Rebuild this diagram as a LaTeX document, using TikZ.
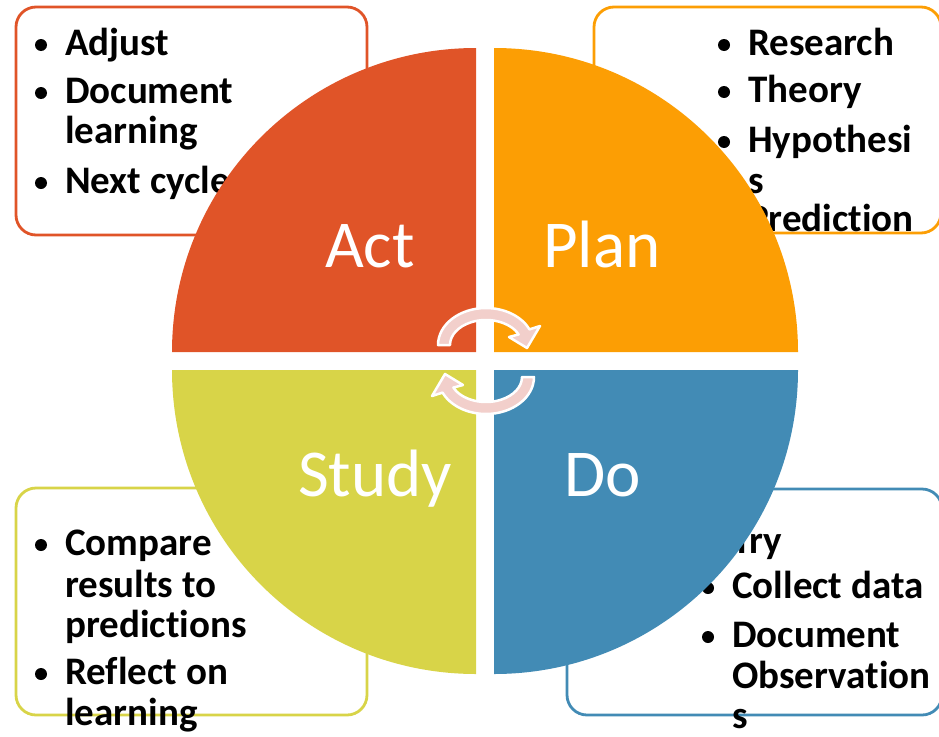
\documentclass[tikz,border=0pt]{standalone}
\usepackage{fontspec}
\setmainfont{Carlito}[Ligatures={NoCommon}]
\definecolor{actc}{RGB}{224,84,40}
\definecolor{planc}{RGB}{252,158,4}
\definecolor{doclr}{RGB}{66,139,181}
\definecolor{studyc}{RGB}{216,212,72}
\definecolor{arrowc}{RGB}{242,207,203}
\begin{document}
\begin{tikzpicture}[x=1pt,y=-1pt,
  box/.style={line width=2.8pt, fill=white, rounded corners=20pt},
  itemtext/.style={anchor=base west, inner sep=0pt, font=\fontsize{39}{42}\bfseries\selectfont},
  bul/.style={circle, fill=black, inner sep=0pt, minimum size=12pt},
  lbl/.style={anchor=base west, inner sep=0pt, text=white, font=\fontsize{67}{80}\selectfont},
  cyc/.style={fill=arrowc, draw=white, line width=2.5pt, line join=round}]
\useasboundingbox (0,0) rectangle (939,736);
% boxes
\draw[box, draw=actc] (16,7) rectangle (367,235);
\draw[box, draw=planc] (594,7) rectangle (941,233);
\draw[box, draw=studyc] (16,488) rectangle (367,715);
\draw[box, draw=doclr] (567,489) rectangle (942,715);
% Act texts
\node[bul] (a1b) at (41,45) {}; \node[itemtext] (a1) at (65,55) {Adjust};
\node[bul] (a2b) at (41,93) {}; \node[itemtext] (a2) at (65,103) {Document};
\node[itemtext] (a2l) at (65,143) {learning};
\node[bul] (a3b) at (41,183) {}; \node[itemtext] (a3) at (65,193) {Next cycle};
% Plan texts
\node[bul] (p1b) at (724,45) {}; \node[itemtext] (p1) at (748,55) {Research};
\node[bul] (p2b) at (724,92) {}; \node[itemtext] (p2) at (748,102) {Theory};
\node[bul] (p3b) at (724,142) {}; \node[itemtext] (p3) at (748,152) {Hypothesi};
\node[itemtext] (p3l) at (748,193) {s};
\node[bul] (p4b) at (724,221) {}; \node[itemtext] (p4) at (748,231) {Prediction};
% Study texts
\node[bul] (s1b) at (41,545) {}; \node[itemtext] (s1) at (65,555) {Compare};
\node[itemtext] (s1l) at (65,597) {results to};
\node[itemtext] (s1m) at (65,637) {predictions};
\node[bul] (s2b) at (41,674) {}; \node[itemtext] (s2) at (65,684) {Reflect on};
\node[itemtext] (s2l) at (65,725) {learning};
% Do texts
\node[bul] (d1b) at (708,543) {}; \node[itemtext] (d1) at (732,553) {Try};
\node[bul] (d2b) at (708,588) {}; \node[itemtext] (d2) at (732,598) {Collect data};
\node[bul] (d3b) at (708,637) {}; \node[itemtext] (d3) at (732,647) {Document};
\node[itemtext] (d3l) at (732,688) {Observation};
\node[itemtext] (d3m) at (732,728) {s};
% quadrants
\fill[actc] (476,352) -- (172,352) arc[start angle=180, end angle=270, radius=304] -- cycle;
\fill[planc] (494,352) -- (494,48) arc[start angle=270, end angle=360, radius=304] -- cycle;
\fill[doclr] (494,370) -- (798,370) arc[start angle=0, end angle=90, radius=304] -- cycle;
\fill[studyc] (476,370) -- (476,674) arc[start angle=90, end angle=180, radius=304] -- cycle;
% labels
\node[lbl] (act) at (325,267) {Act};
\node[lbl] (plan) at (543,267) {Plan};
\node[lbl] (study) at (298,496) {Study};
\node[lbl] (do) at (564,496) {Do};
% cycle arrows
\begin{scope}[shift={(486,345)}]
\path[cyc] (180:48 and 37) arc[start angle=180, end angle=335, x radius=48, y radius=37]
  -- (54,-19) -- (41,3) -- (23,-8) -- (335:36 and 25)
  arc[start angle=335, end angle=180, x radius=36, y radius=25] -- cycle;
\end{scope}
\begin{scope}[shift={(486,377)}, rotate=180]
\path[cyc] (180:48 and 37) arc[start angle=180, end angle=335, x radius=48, y radius=37]
  -- (54,-19) -- (41,3) -- (23,-8) -- (335:36 and 25)
  arc[start angle=335, end angle=180, x radius=36, y radius=25] -- cycle;
\end{scope}
\end{tikzpicture}
\end{document}
